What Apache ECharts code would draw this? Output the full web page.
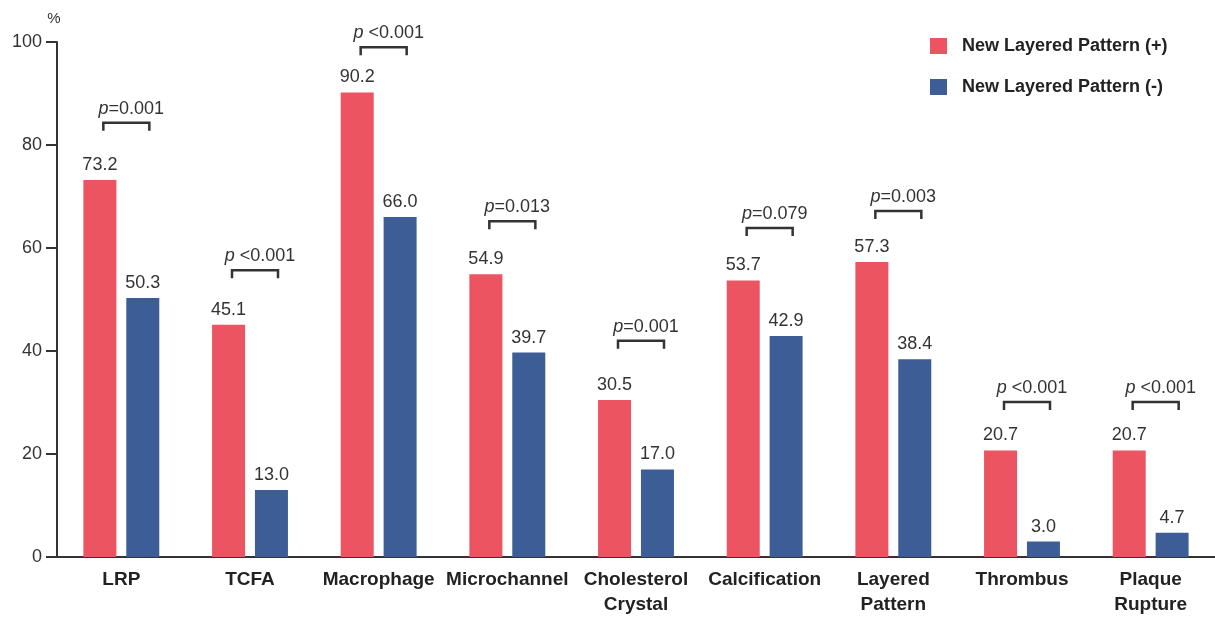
<!DOCTYPE html>
<html>
<head>
<meta charset="utf-8">
<script src="https://cdn.jsdelivr.net/npm/echarts@6/dist/echarts.min.js"></script>
<style>
html,body{margin:0;padding:0;background:#fff;}
#chart{width:1215px;height:619px;}
</style>
</head>
<body>
<div id="chart"></div>
<script>
const categories = ['LRP','TCFA','Macrophage','Microchannel','Cholesterol\nCrystal','Calcification','Layered\nPattern','Thrombus','Plaque\nRupture'];
const positiveValues = [73.2, 45.1, 90.2, 54.9, 30.5, 53.7, 57.3, 20.7, 20.7];
const negativeValues = [50.3, 13.0, 66.0, 39.7, 17.0, 42.9, 38.4, 3.0, 4.7];
const pTexts = ['=0.001',' <0.001',' <0.001','=0.013','=0.001','=0.079','=0.003',' <0.001',' <0.001'];
const bracketLevels = [84.3, 55.7, 99.0, 65.2, 42.0, 63.9, 67.2, 30.1, 30.1];
const yTicks = [0, 20, 40, 60, 80, 100];
const seriesNames = ['New Layered Pattern (+)', 'New Layered Pattern (-)'];

const FONT = 'Liberation Sans, Arial, sans-serif';
const chart = echarts.init(document.getElementById('chart'));

const labelStyle = {
  show: true, position: 'top', distance: 6,
  fontFamily: FONT, fontSize: 18, color: '#333',
  formatter: p => p.value.toFixed(1)
};

chart.setOption({
  animation: false,
  backgroundColor: '#fff',
  legend: {
    orient: 'vertical', left: 925, top: 32,
    itemWidth: 17, itemHeight: 16, itemGap: 23,
    icon: 'rect',
    textStyle: { fontFamily: FONT, fontSize: 18, fontWeight: 'bold', color: '#222', padding: [0,0,0,10] },
    data: seriesNames
  },
  grid: { left: 57, right: 0, top: 42, bottom: 62, containLabel: false },
  xAxis: {
    type: 'category', data: categories,
    axisLine: { lineStyle: { color: '#333', width: 2 } },
    axisTick: { show: false },
    axisLabel: { interval: 0, margin: 10, fontFamily: FONT, fontSize: 19, fontWeight: 'bold', color: '#222', lineHeight: 25 }
  },
  yAxis: {
    type: 'value', min: yTicks[0], max: yTicks[yTicks.length-1], interval: 20,
    name: '%', nameLocation: 'end', nameGap: 16,
    nameTextStyle: { fontFamily: FONT, fontSize: 15, color: '#333', align: 'center', padding: [0, 6, 0, 0] },
    splitLine: { show: false },
    axisLine: { show: true, lineStyle: { color: '#333', width: 2 } },
    axisTick: { show: true, inside: false, length: 11, lineStyle: { color: '#333', width: 2 } },
    axisLabel: { margin: 15, fontFamily: FONT, fontSize: 18, color: '#333' }
  },
  series: [
    {
      name: seriesNames[0], type: 'bar', data: positiveValues,
      barWidth: 33, barGap: '30%',
      itemStyle: { color: '#EC5462' },
      label: labelStyle
    },
    {
      name: seriesNames[1], type: 'bar', data: negativeValues,
      barWidth: 33,
      itemStyle: { color: '#3D5D97' },
      label: labelStyle
    },
    {
      type: 'custom', silent: true,
      data: bracketLevels.map((v, i) => [i, v]),
      renderItem: function (params, api) {
        const pt = api.coord([api.value(0), api.value(1)]);
        const x = pt[0] + 5, y = pt[1];
        const hw = 23, leg = 8;
        return {
          type: 'group',
          children: [
            {
              type: 'polyline',
              shape: { points: [[x - hw, y + leg], [x - hw, y], [x + hw, y], [x + hw, y + leg]] },
              style: { stroke: '#333', lineWidth: 2.5, fill: null }
            },
            {
              type: 'text',
              style: {
                x: x + 5, y: y - 5,
                text: '{i|p}{n|' + pTexts[params.dataIndex] + '}',
                align: 'center', verticalAlign: 'bottom',
                rich: {
                  i: { fontFamily: FONT, fontSize: 18, fontStyle: 'italic', fill: '#333' },
                  n: { fontFamily: FONT, fontSize: 18, fill: '#333' }
                }
              }
            }
          ]
        };
      }
    }
  ]
});
</script>
</body>
</html>
